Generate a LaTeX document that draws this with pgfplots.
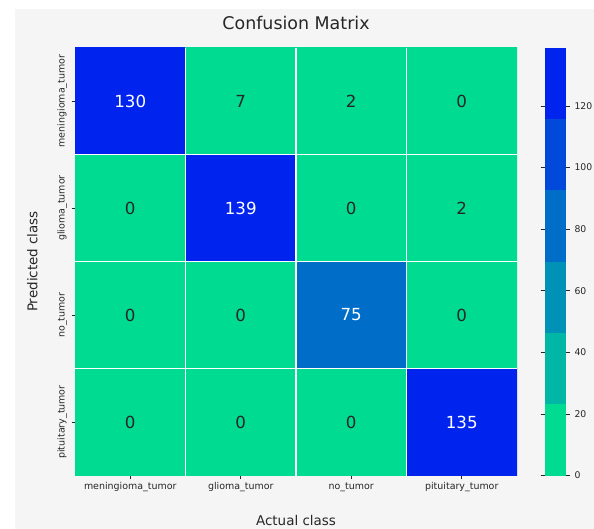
\documentclass[border=0pt]{standalone}
\usepackage{fontspec}
\setmainfont{DejaVu Sans}
\usepackage{pgfplots}
\pgfplotsset{compat=1.18}
\definecolor{bgray}{RGB}{245,245,245}
\definecolor{txt}{RGB}{38,38,38}

\begin{document}
\begin{tikzpicture}
  \useasboundingbox (0,0) rectangle (594bp,529bp);
  \fill[white] (0,0) rectangle (594bp,529bp);
  \fill[bgray] (15bp,0) rectangle (594bp,520bp);
  \begin{axis}[
      at={(75bp,53.5bp)}, anchor=south west,
      scale only axis, width=442bp, height=428bp,
      xmin=-0.5, xmax=3.5, ymin=-0.5, ymax=3.5,
      y dir=reverse,
      xtick={0,1,2,3}, ytick={0,1,2,3},
      xticklabels={meningioma\_tumor, glioma\_tumor, no\_tumor, pituitary\_tumor},
      yticklabels={meningioma\_tumor, glioma\_tumor, no\_tumor, pituitary\_tumor},
      tick label style={font=\fontsize{9.5}{11}\selectfont, text=txt, inner sep=0pt},
      xticklabel style={anchor=north, yshift=-3.5bp},
      yticklabel style={rotate=90, anchor=south, yshift=4.5bp},
      axis line style={draw=none},
      tick align=outside, xtick pos=bottom, ytick pos=left,
      major tick length=3.5bp, tick style={txt, line width=0.6bp},
      minor xtick={0.5,1.5,2.5}, minor ytick={0.5,1.5,2.5},
      minor tick length=0pt,
      xminorgrids, yminorgrids,
      minor grid style={white, line width=1.8bp},
      axis on top,
      colormap={winterd}{rgb255=(0,219,146) rgb255=(0,182,164) rgb255=(0,146,182)
        rgb255=(0,109,200) rgb255=(0,73,219) rgb255=(0,36,237)},
      colormap access=piecewise constant,
      point meta min=0, point meta max=139,
      colorbar,
      colorbar style={
        at={(parent axis.north east)}, anchor=north west, xshift=19bp,
        scale only axis, width=21.3bp, height=428bp,
        ytick={0,20,40,60,80,100,120},
        yticklabels={0,20,40,60,80,100,120},
        yticklabel style={font=\fontsize{9.3}{11}\selectfont, text=txt,
          inner sep=0pt, xshift=4.5bp},
        axis line style={draw=none},
        tick align=outside, major tick length=4bp,
        tick style={txt, line width=0.6bp},
      },
      title={Confusion Matrix},
      title style={font=\fontsize{17.5}{20}\selectfont, text=txt,
        at={(0.5,1)}, anchor=base, yshift=12bp},
      xlabel={Actual class},
      xlabel style={font=\fontsize{13.5}{16}\selectfont, text=txt,
        at={(0.5,0)}, anchor=base, yshift=-50bp},
      ylabel={Predicted class},
      ylabel style={font=\fontsize{13.5}{16}\selectfont, text=txt,
        at={(axis description cs:-0.0853,0.5)}, anchor=base},
    ]
    % confusion counts: x = actual class, y = predicted class
    \addplot[matrix plot*, point meta=explicit, mesh/cols=4] table[meta=c] {
      x y c
      0 0 130
      1 0 7
      2 0 2
      3 0 0
      0 1 0
      1 1 139
      2 1 0
      3 1 2
      0 2 0
      1 2 0
      2 2 75
      3 2 0
      0 3 0
      1 3 0
      2 3 0
      3 3 135
    };
    % annotations on light cells
    \addplot[draw=none, mark=none, nodes near coords, point meta=explicit symbolic,
      nodes near coords style={anchor=center, font=\fontsize{16.7}{18}\selectfont, text=txt}]
      table[meta=c] {
      x y c
      1 0 7
      2 0 2
      3 0 0
      0 1 0
      2 1 0
      3 1 2
      0 2 0
      1 2 0
      3 2 0
      0 3 0
      1 3 0
      2 3 0
    };
    % annotations on dark cells
    \addplot[draw=none, mark=none, nodes near coords, point meta=explicit symbolic,
      nodes near coords style={anchor=center, font=\fontsize{16.7}{18}\selectfont, text=white}]
      table[meta=c] {
      x y c
      0 0 130
      1 1 139
      2 2 75
      3 3 135
    };
  \end{axis}
\end{tikzpicture}
\end{document}
